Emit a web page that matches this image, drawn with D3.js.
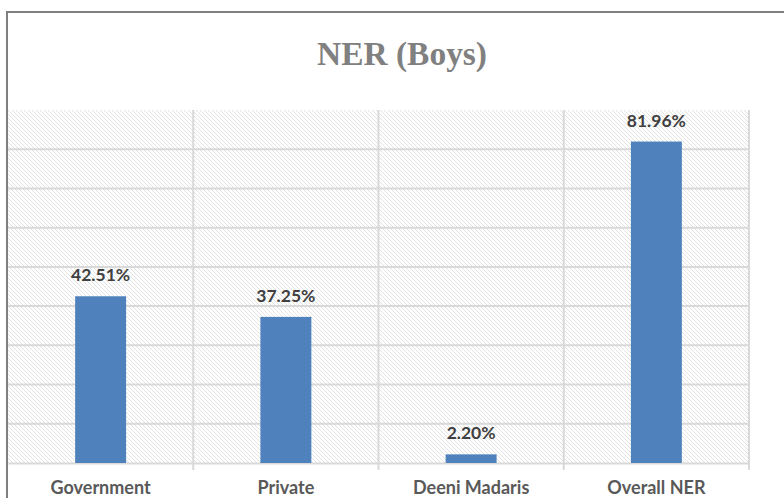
<!DOCTYPE html>
<html>
<head>
<meta charset="utf-8">
<script src="https://cdn.jsdelivr.net/npm/d3@7"></script>
<style>
  body { margin: 0; background: #fff; }
  svg { display: block; }
</style>
</head>
<body>
<div id="wrapper"></div>
<script>
const categories = ['Government', 'Private', 'Deeni Madaris', 'Overall NER']
const values = [42.51, 37.25, 2.20, 81.96]
const valueLabels = ['42.51%', '37.25%', '2.20%', '81.96%']
const gridValues = [10, 20, 30, 40, 50, 60, 70, 80]

const dimensions = {
  width: 784,
  height: 498,
  margins: { top: 110, right: 35, bottom: 35, left: 8 },
}
dimensions.boundedWidth = dimensions.width - dimensions.margins.left - dimensions.margins.right
dimensions.boundedHeight = dimensions.height - dimensions.margins.top - dimensions.margins.bottom

const wrapper = d3.select('#wrapper')
  .append('svg')
    .attr('width', dimensions.width)
    .attr('height', dimensions.height)

// hatch fill for the plot area
const defs = wrapper.append('defs')
const pattern = defs.append('pattern')
    .attr('id', 'hatch')
    .attr('patternUnits', 'userSpaceOnUse')
    .attr('width', 4)
    .attr('height', 4)
pattern.append('rect')
    .attr('width', 4).attr('height', 4).attr('fill', '#fff')
pattern.append('path')
    .attr('d', 'M-1,-1 L5,5 M-1,3 L1,5 M3,-1 L5,1')
    .attr('stroke', '#e2e2e2')
    .attr('stroke-width', 1)

// outer chart border
wrapper.append('rect')
    .attr('x', 7)
    .attr('y', 12)
    .attr('width', 900)
    .attr('height', 600)
    .attr('fill', 'none')
    .attr('stroke', '#7f7f7f')
    .attr('stroke-width', 2)

wrapper.append('text')
    .attr('x', 402)
    .attr('y', 65)
    .attr('text-anchor', 'middle')
    .attr('font-family', '"Liberation Serif", serif')
    .attr('font-weight', 'bold')
    .attr('font-size', 34)
    .attr('textLength', 170)
    .attr('lengthAdjust', 'spacingAndGlyphs')
    .attr('fill', '#808080')
    .text('NER (Boys)')

const bounds = wrapper.append('g')
    .attr('transform', `translate(${dimensions.margins.left},${dimensions.margins.top})`)

const xScale = d3.scaleBand()
    .domain(categories)
    .range([0, dimensions.boundedWidth])

const yScale = d3.scaleLinear()
    .domain([0, 90])
    .range([dimensions.boundedHeight, 0])

bounds.append('rect')
    .attr('width', dimensions.boundedWidth)
    .attr('height', dimensions.boundedHeight)
    .attr('fill', 'url(#hatch)')

// horizontal gridlines
bounds.append('g')
  .selectAll('line')
  .data(gridValues)
  .join('line')
    .attr('x1', 0)
    .attr('x2', dimensions.boundedWidth)
    .attr('y1', d => yScale(d))
    .attr('y2', d => yScale(d))
    .attr('stroke', '#d9d9d9')
    .attr('stroke-width', 2)

// vertical category dividers, running down as tick marks
bounds.append('g')
  .selectAll('line')
  .data(categories.slice(1).concat(['end']))
  .join('line')
    .attr('x1', d => d === 'end' ? dimensions.boundedWidth : xScale(d))
    .attr('x2', d => d === 'end' ? dimensions.boundedWidth : xScale(d))
    .attr('y1', 0)
    .attr('y2', dimensions.boundedHeight + 7)
    .attr('stroke', '#d9d9d9')
    .attr('stroke-width', 2)

const xAxis = bounds.append('g')
    .attr('transform', `translate(0,${dimensions.boundedHeight})`)
    .call(d3.axisBottom(xScale).tickSize(0).tickPadding(0))
xAxis.select('.domain')
    .attr('stroke', '#d9d9d9')
    .attr('stroke-width', 2)
xAxis.selectAll('text')
    .attr('y', 31)
    .attr('dy', null)
    .attr('font-family', 'Lato, sans-serif')
    .attr('font-weight', 'bold')
    .attr('font-size', 18)
    .attr('fill', '#595959')

const barWidth = xScale.bandwidth() * 0.275

bounds.append('g')
  .selectAll('rect')
  .data(values)
  .join('rect')
    .attr('x', (d, i) => xScale(categories[i]) + (xScale.bandwidth() - barWidth) / 2)
    .attr('y', d => yScale(d))
    .attr('width', barWidth)
    .attr('height', d => dimensions.boundedHeight - yScale(d))
    .attr('fill', '#4f81bd')

bounds.append('g')
  .selectAll('text')
  .data(values)
  .join('text')
    .attr('x', (d, i) => xScale(categories[i]) + xScale.bandwidth() / 2)
    .attr('y', d => yScale(d) - 15)
    .attr('text-anchor', 'middle')
    .attr('font-family', 'Lato, sans-serif')
    .attr('font-weight', 'bold')
    .attr('font-size', 17.5)
    .attr('fill', '#404040')
    .text((d, i) => valueLabels[i])
</script>
</body>
</html>
